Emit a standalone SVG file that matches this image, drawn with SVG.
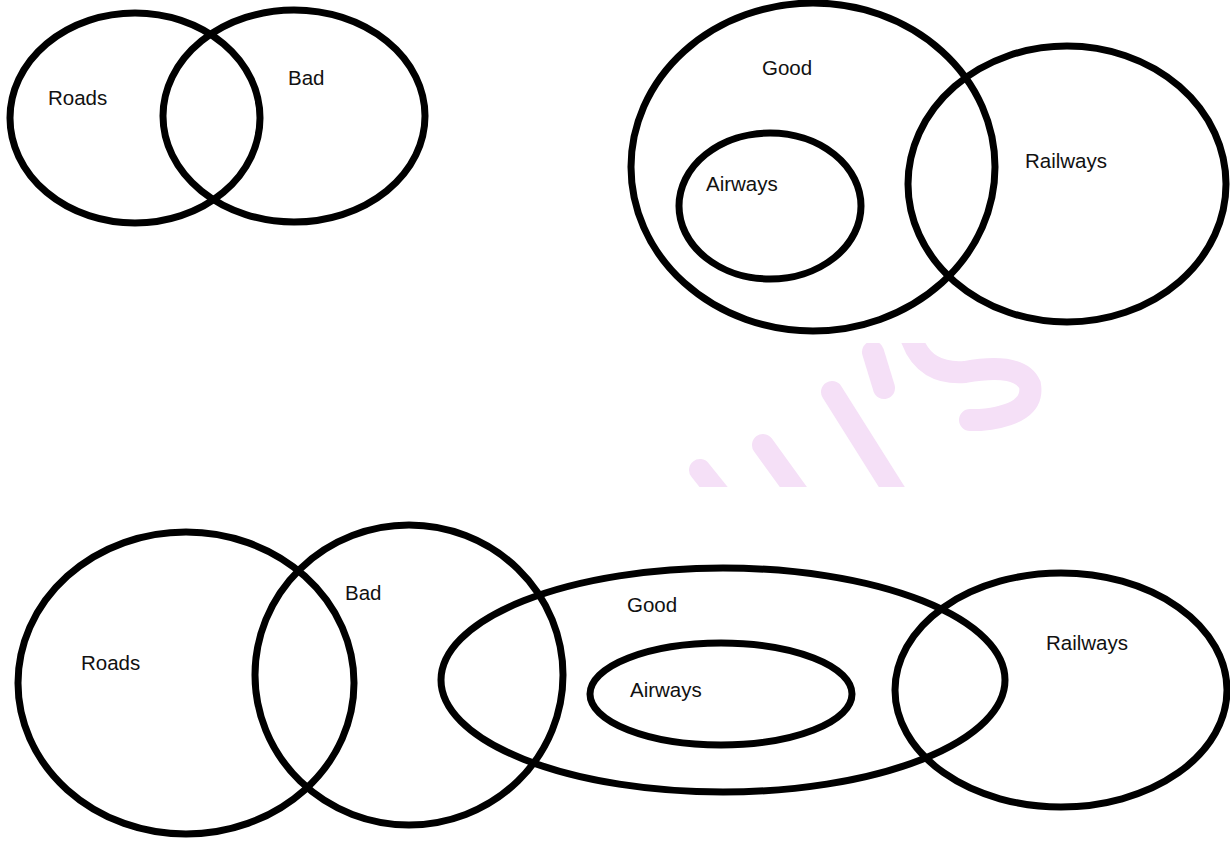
<svg xmlns="http://www.w3.org/2000/svg" width="1230" height="841" viewBox="0 0 1230 841">
<style>
.set{fill:none;stroke:#000;stroke-width:7}
.lbl{font-family:"Liberation Sans",Arial,sans-serif;font-size:20.5px;fill:#111}
.wm{fill:none;stroke:#f5e0f7;stroke-width:22;stroke-linecap:round}
</style>
<defs>
<clipPath id="band"><rect x="600" y="343" width="630" height="144"/></clipPath>
</defs>
<rect width="1230" height="841" fill="#fff"/>
<g id="watermark" clip-path="url(#band)">
<path class="wm" d="M700 470 L740 520"/>
<path class="wm" d="M763 445 L810 510"/>
<path class="wm" d="M832 392 L900 500"/>
<path class="wm" d="M873 352 L884 388"/>
<path class="wm" d="M912 340 Q925 375 965 372 Q1020 362 1030 385 Q1035 415 980 420 L970 420"/>
</g>
<g id="top-left">
<g id="roads1"><ellipse class="set" cx="135" cy="118" rx="125" ry="105"/><text class="lbl" x="48" y="105">Roads</text></g>
<g id="bad1"><ellipse class="set" cx="294" cy="116" rx="131" ry="106"/><text class="lbl" x="288" y="85">Bad</text></g>
</g>
<g id="top-right">
<g id="good1"><ellipse class="set" cx="813" cy="167" rx="182" ry="164"/><text class="lbl" x="762" y="75">Good</text></g>
<g id="airways1"><ellipse class="set" cx="770" cy="206" rx="91" ry="73"/><text class="lbl" x="706" y="191">Airways</text></g>
<g id="railways1"><ellipse class="set" cx="1067" cy="184" rx="159" ry="138"/><text class="lbl" x="1025" y="168">Railways</text></g>
</g>
<g id="bottom">
<g id="roads2"><ellipse class="set" cx="186" cy="683" rx="168" ry="151"/><text class="lbl" x="81" y="670">Roads</text></g>
<g id="bad2"><ellipse class="set" cx="409" cy="675" rx="154" ry="150"/><text class="lbl" x="345" y="600">Bad</text></g>
<g id="good2"><ellipse class="set" cx="723" cy="680" rx="282" ry="112"/><text class="lbl" x="627" y="612">Good</text></g>
<g id="airways2"><ellipse class="set" cx="721" cy="694" rx="131" ry="51"/><text class="lbl" x="630" y="697">Airways</text></g>
<g id="railways2"><ellipse class="set" cx="1061" cy="690" rx="166" ry="117"/><text class="lbl" x="1046" y="650">Railways</text></g>
</g>
<g id="connectors"/>
</svg>
